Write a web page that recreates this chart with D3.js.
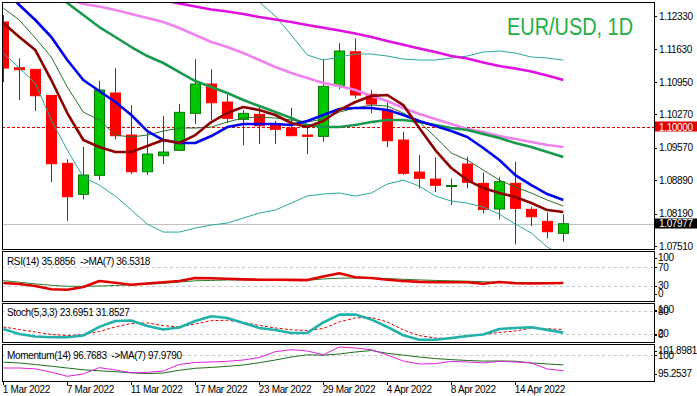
<!DOCTYPE html>
<meta charset="utf-8">
<style>
body { margin: 0; background: #fff; }
svg { display: block; font-family: "Liberation Sans", Arial, sans-serif; }
.axis text { font-size: 10px; letter-spacing: -0.35px; fill: #000; }
.axis path { display: none; }
.axis line { stroke: #000; shape-rendering: crispEdges; }
</style>
<svg width="697" height="396"></svg>
<script src="https://d3js.org/d3.v7.min.js"></script>
<script>

// ---- data (daily EUR/USD, 1 Mar .. 19 Apr 2022) ----
var dates = ["1 Mar 2022","2 Mar 2022","3 Mar 2022","4 Mar 2022","7 Mar 2022","8 Mar 2022","9 Mar 2022","10 Mar 2022",
  "11 Mar 2022","14 Mar 2022","15 Mar 2022","16 Mar 2022","17 Mar 2022","18 Mar 2022","21 Mar 2022","22 Mar 2022",
  "23 Mar 2022","24 Mar 2022","25 Mar 2022","28 Mar 2022","29 Mar 2022","30 Mar 2022","31 Mar 2022","1 Apr 2022",
  "4 Apr 2022","5 Apr 2022","6 Apr 2022","7 Apr 2022","8 Apr 2022","11 Apr 2022","12 Apr 2022","13 Apr 2022",
  "14 Apr 2022","15 Apr 2022","18 Apr 2022","19 Apr 2022"];

var open  = [1.12204,1.11246,1.11212,1.10665,1.09242,1.08593,1.08991,1.10716,1.09835,1.09066,1.09402,1.09515,
  1.10290,1.10904,1.10527,1.10164,1.10269,1.10060,1.09982,1.09835,1.09808,1.10869,1.11581,1.10688,
  1.10359,1.09731,1.09060,1.08913,1.08756,1.09228,1.08823,1.08284,1.08823,1.08278,1.08027,1.07775];
var high  = [1.12351,1.11443,1.11212,1.10674,1.09326,1.09590,1.10974,1.11233,1.10458,1.09940,1.10234,1.10485,
  1.11422,1.11212,1.10695,1.10359,1.10429,1.10135,1.10408,1.10045,1.11422,1.11757,1.11862,1.10779,
  1.10569,1.09905,1.09416,1.09368,1.08928,1.09381,1.09045,1.08961,1.09276,1.08333,1.08215,1.08173];
var low   = [1.10946,1.10569,1.10338,1.08850,1.08039,1.08488,1.08892,1.09745,1.09018,1.08997,1.09228,1.09515,
  1.10066,1.10150,1.10087,1.09620,1.09647,1.09647,1.09815,1.09437,1.09695,1.10793,1.10605,1.10290,
  1.09578,1.08997,1.08718,1.08641,1.08368,1.08718,1.08194,1.08068,1.07544,1.07928,1.07670,1.07599];
var close = [1.11240,1.11204,1.10659,1.09234,1.08542,1.08997,1.10779,1.09821,1.09066,1.09437,1.09479,1.10311,
  1.10904,1.10512,1.10185,1.10290,1.10030,1.09955,1.09821,1.09808,1.10856,1.11596,1.10674,1.10485,
  1.09716,1.09033,1.08928,1.08781,1.08777,1.08844,1.08278,1.08857,1.08299,1.08123,1.07809,1.07977];

// moving averages on price
var maRed = [1.12183,1.11890,1.11617,1.10988,1.10296,1.09731,1.09584,1.09479,1.09479,1.09605,1.09731,1.09668,
  1.09835,1.10108,1.10296,1.10422,1.10359,1.10255,1.10087,1.10003,1.10129,1.10359,1.10527,1.10653,
  1.10674,1.10464,1.09982,1.09521,1.09144,1.08892,1.08724,1.08620,1.08536,1.08410,1.08263,1.08221];
var maOlive = [1.12497,1.12246,1.11869,1.11470,1.10841,1.10317,1.10150,1.09835,1.09794,1.09835,1.09919,1.09982,
  1.09982,1.10003,1.10108,1.10192,1.10213,1.10192,1.10150,1.10108,1.10171,1.10317,1.10401,1.10464,
  1.10443,1.10296,1.10108,1.09794,1.09458,1.09311,1.09102,1.08892,1.08745,1.08620,1.08473,1.08347];
var maBlue = [1.12917,1.12560,1.12246,1.11890,1.11407,1.10988,1.10758,1.10527,1.10255,1.09919,1.09731,1.09668,
  1.09668,1.09814,1.10003,1.10066,1.10066,1.10066,1.10045,1.10129,1.10255,1.10380,1.10401,1.10401,
  1.10359,1.10255,1.10129,1.10024,1.09919,1.09794,1.09563,1.09311,1.08997,1.08787,1.08599,1.08473];
var maGreen = [null,null,null,1.12875,1.12602,1.12351,1.12099,1.11890,1.11680,1.11491,1.11345,1.11156,
  1.10967,1.10841,1.10716,1.10569,1.10443,1.10317,1.10192,1.10045,1.10003,1.10003,1.10045,1.10108,
  1.10150,1.10150,1.10108,1.10045,1.09982,1.09940,1.09856,1.09773,1.09668,1.09584,1.09479,1.09374];
var maPink = [null,null,null,1.12749,1.12686,1.12581,1.12529,1.12455,1.12372,1.12288,1.12204,1.12078,
  1.11931,1.11785,1.11680,1.11554,1.11407,1.11261,1.11135,1.11030,1.10925,1.10862,1.10779,1.10653,
  1.10548,1.10401,1.10276,1.10171,1.10066,1.09961,1.09898,1.09814,1.09751,1.09689,1.09626,1.09584];
var maMagenta = [null,null,null,null,null,null,null,null,null,1.12728,1.12665,1.12592,
  1.12529,1.12466,1.12424,1.12372,1.12309,1.12258,1.12204,1.12141,1.12084,1.12026,1.11965,1.11890,
  1.11806,1.11728,1.11648,1.11575,1.11491,1.11439,1.11355,1.11282,1.11229,1.11166,1.11082,1.10988];
var bbUpper = [null,null,null,null,null,null,null,null,null,null,null,null,
  null,null,null,1.12917,1.12623,1.12330,1.11931,1.11512,1.11407,1.11470,1.11533,1.11533,
  1.11491,1.11428,1.11407,1.11407,1.11449,1.11491,1.11575,1.11596,1.11554,1.11470,1.11449,1.11407];
var bbLower = [1.11554,1.11240,1.10925,1.10150,1.09521,1.08955,1.08787,1.08557,1.08263,1.07970,1.07802,1.07802,
  1.07886,1.07949,1.07991,1.08096,1.08200,1.08263,1.08410,1.08557,1.08599,1.08620,1.08557,1.08620,
  1.08808,1.08892,1.08766,1.08557,1.08452,1.08410,1.08326,1.08179,1.07970,1.07781,1.07488,1.07299];

// indicators
var rsi = [35.9,33.7,29.3,22.2,21.3,27.2,40.2,36.5,32.2,34.8,37.6,40.2,46.7,46.3,45.0,43.7,43.0,43.0,
  42.6,42.2,50.0,57.2,48.3,46.7,42.8,40.2,38.3,37.4,37.4,37.4,34.1,38.0,35.4,34.8,35.4,35.8856];
var rsiMa = [41.1,37.6,33.9,30.9,28.7,28.7,29.3,30.4,32.0,33.3,35.0,38.0,40.7,41.5,42.4,42.8,42.8,42.6,
  42.0,41.7,44.6,46.3,46.7,46.5,45.7,43.9,42.6,41.5,40.7,39.8,38.7,37.4,37.0,36.7,36.5,36.5318];
var stochK = [33.3,20.1,13.5,11.6,11.4,16.1,38.9,54.5,55.8,41.3,32.0,37.3,54.5,66.9,62.4,49.2,36.0,30.7,
  22.8,22.8,50.5,71.2,71.2,58.5,38.6,16.7,5.0,5.0,9.5,14.8,18.8,33.3,36.0,37.8,31.0,23.6951];
var stochD = [38.6,32.0,25.4,18.8,15.9,18.8,26.7,38.6,47.9,49.2,42.1,38.6,46.6,55.3,56.3,50.5,42.6,36.0,
  31.2,29.1,34.7,51.9,62.4,63.8,51.9,30.7,15.9,9.5,7.7,13.5,18.8,24.1,28.0,35.4,33.9,31.8527];
var momentum = [97.33,97.33,97.16,96.46,95.61,96.08,97.41,96.92,96.35,96.44,96.71,98.06,98.47,98.58,98.72,98.99,
  99.51,100.72,101.13,100.86,100.07,101.70,101.48,101.13,100.03,98.78,98.16,98.24,98.70,98.58,98.39,98.70,
  98.58,98.37,97.12,96.7683];
var momentumMa = [98.54,98.37,98.06,97.70,97.33,96.96,96.75,96.56,96.33,96.17,96.29,96.85,97.27,97.45,97.68,97.95,
  98.43,98.99,99.61,100.07,99.99,100.24,100.65,100.96,100.38,100.01,99.61,99.28,99.07,98.89,98.76,98.80,
  98.74,98.39,98.16,97.9790];

// axis ticks and levels
var priceTicks = [1.12330, 1.11630, 1.10950, 1.10270, 1.09570, 1.08890, 1.08190, 1.07510];
var rsiTicks = [100, 70, 30, 0], rsiLevels = [70, 30];
var stochTicks = [100, 80, 20, 0], stochLevels = [80, 20];
var momTicks = [101.8981, 100, 95.2537], momLevels = [100];
var levelPrice = 1.10000, lastPrice = 1.07977;

var svg = d3.select("svg"),
    plotL = 2, plotR = 654;

var panels = [
  {id: "main",  top: 2,   bottom: 249},
  {id: "rsi",   top: 251, bottom: 301},
  {id: "stoch", top: 303, bottom: 342},
  {id: "mom",   top: 344, bottom: 381}
];

var x = d3.scaleLinear().domain([0, 35]).range([3.3, 563.3]);
var yMain  = d3.scaleLinear().domain([1.0751, 1.1233]).range([246, 16]);
var yRsi   = d3.scaleLinear().domain([0, 100]).range([299.5, 253.5]);
var yStoch = d3.scaleLinear().domain([0, 100]).range([341.6, 303.7]);
var yMom   = d3.scaleLinear().domain([95.2537, 101.8981]).range([378, 346]);

var defs = svg.append("defs");
var layer = {};
panels.forEach(function(p) {
  defs.append("clipPath").attr("id", "clip-" + p.id)
    .append("rect")
      .attr("x", plotL + 1).attr("y", p.top + 1)
      .attr("width", plotR - plotL - 1).attr("height", p.bottom - p.top - 1);
  layer[p.id] = svg.append("g").attr("clip-path", "url(#clip-" + p.id + ")");
});

function hline(g, y, color, dash) {
  g.append("line")
      .attr("x1", plotL).attr("x2", plotR)
      .attr("y1", Math.round(y) + 0.5).attr("y2", Math.round(y) + 0.5)
      .attr("stroke", color)
      .attr("stroke-dasharray", dash || null);
}

function drawLine(g, values, y, color, width, dash) {
  var line = d3.line()
      .defined(function(d) { return d != null; })
      .x(function(d, i) { return x(i); })
      .y(function(d) { return y(d); });
  g.append("path")
      .datum(values)
      .attr("d", line)
      .attr("fill", "none")
      .attr("stroke", color)
      .attr("stroke-width", width)
      .attr("stroke-linejoin", "round")
      .attr("stroke-dasharray", dash || null);
}

// ---- main chart ----
var gm = layer.main;
hline(gm, yMain(levelPrice), "#e00000", "3,2");
hline(gm, yMain(lastPrice), "#c0c0c0");

var candles = gm.selectAll(".candle")
  .data(d3.range(open.length))
  .enter().append("g");

candles.append("line")
    .attr("x1", function(i) { return Math.round(x(i)) + 0.5; })
    .attr("x2", function(i) { return Math.round(x(i)) + 0.5; })
    .attr("y1", function(i) { return yMain(high[i]); })
    .attr("y2", function(i) { return yMain(low[i]); })
    .attr("stroke", function(i) { return close[i] >= open[i] ? "#007000" : "#d00000"; });

candles.append("rect")
    .attr("x", function(i) { return Math.round(x(i)) - 4.5; })
    .attr("width", 10)
    .attr("y", function(i) { return yMain(Math.max(open[i], close[i])); })
    .attr("height", function(i) { return Math.max(1, Math.abs(yMain(open[i]) - yMain(close[i]))); })
    .attr("fill", function(i) { return close[i] >= open[i] ? "#00c800" : "#ff0000"; })
    .attr("stroke", function(i) { return close[i] >= open[i] ? "#007800" : "#ff0000"; })
    .attr("stroke-width", 1);

drawLine(gm, bbUpper, yMain, "#2aa898", 1);
drawLine(gm, bbLower, yMain, "#2aa898", 1);
drawLine(gm, maMagenta, yMain, "#e010e0", 2.6);
drawLine(gm, maPink, yMain, "#ee82ee", 2.6);
drawLine(gm, maGreen, yMain, "#179a4c", 2.6);
drawLine(gm, maOlive, yMain, "#2d6e2d", 1);
drawLine(gm, maBlue, yMain, "#0000f0", 2.6);
drawLine(gm, maRed, yMain, "#8c0000", 2.6);

svg.append("text")
    .attr("x", 507).attr("y", 35)
    .attr("font-size", 23)
    .attr("textLength", 126)
    .attr("lengthAdjust", "spacingAndGlyphs")
    .attr("fill", "#20b040")
    .text("EUR/USD, 1D");

// ---- indicator windows ----
var gr = layer.rsi;
rsiLevels.forEach(function(v) { hline(gr, yRsi(v), "#c8c8c8", "3,3"); });
drawLine(gr, rsiMa, yRsi, "#2d7a2d", 1);
drawLine(gr, rsi, yRsi, "#e00000", 2.6);

var gs = layer.stoch;
stochLevels.forEach(function(v) { hline(gs, yStoch(v), "#c8c8c8", "3,3"); });
drawLine(gs, stochD, yStoch, "#e00000", 1, "3,2");
drawLine(gs, stochK, yStoch, "#20b2aa", 2.6);

var gmo = layer.mom;
momLevels.forEach(function(v) { hline(gmo, yMom(v), "#c8c8c8", "3,3"); });
drawLine(gmo, momentumMa, yMom, "#1e6e1e", 1);
drawLine(gmo, momentum, yMom, "#e020e0", 1);

// frames
panels.forEach(function(p) {
  svg.append("rect")
      .attr("x", plotL + 0.5).attr("y", p.top + 0.5)
      .attr("width", plotR - plotL).attr("height", p.bottom - p.top)
      .attr("fill", "none").attr("stroke", "#000");
});

// legends
var legend = [
  {y: 264.5, t: "RSI(14) 35.8856  ->MA(7) 36.5318"},
  {y: 315.5, t: "Stoch(5,3,3) 23.6951 31.8527"},
  {y: 358.5, t: "Momentum(14) 96.7683  ->MA(7) 97.9790"}
];
svg.selectAll(".legend").data(legend).enter().append("text")
    .attr("x", 7).attr("y", function(d) { return d.y; })
    .attr("font-size", 10).attr("letter-spacing", "-0.35px")
    .attr("fill", "#000")
    .style("white-space", "pre")
    .text(function(d) { return d.t; });

// ---- axes ----
svg.append("g")
    .attr("class", "axis")
    .attr("transform", "translate(" + plotR + ",0)")
    .call(d3.axisRight(yMain).tickValues(priceTicks).tickSize(3).tickPadding(2)
      .tickFormat(d3.format(".5f")));

function priceTag(v, bg) {
  var yv = yMain(v);
  svg.append("rect")
      .attr("x", plotR + 1).attr("y", Math.round(yv) - 5.5)
      .attr("width", 697 - plotR).attr("height", 10)
      .attr("fill", bg);
  svg.append("text")
      .attr("x", plotR + 5).attr("y", yv).attr("dy", "0.34em")
      .attr("font-size", 10).attr("letter-spacing", "-0.35px")
      .attr("fill", "#fff")
      .text(d3.format(".5f")(v));
}
priceTag(levelPrice, "#e00000");
priceTag(lastPrice, "#000");

function sideLabels(ticks, y, p, fmt) {
  var g = svg.append("g").attr("class", "axis");
  ticks.forEach(function(v) {
    var yy = Math.max(p.top + 7, Math.min(p.bottom - 7, y(v)));
    g.append("line")
        .attr("x1", plotR).attr("x2", plotR + 3)
        .attr("y1", Math.round(yy) + 0.5).attr("y2", Math.round(yy) + 0.5);
    g.append("text")
        .attr("x", plotR + 4).attr("y", yy).attr("dy", "0.34em")
        .text(fmt(v));
  });
}
sideLabels(rsiTicks, yRsi, panels[1], d3.format("d"));
sideLabels(stochTicks, yStoch, panels[2], d3.format("d"));
sideLabels(momTicks, yMom, panels[3], d3.format("~f"));

var xAxis = svg.append("g")
    .attr("class", "axis")
    .attr("transform", "translate(0," + panels[3].bottom + ")")
    .call(d3.axisBottom(x).tickValues(d3.range(0, 36, 4)).tickSize(4).tickPadding(1)
      .tickFormat(function(i) { return dates[i]; }));
xAxis.selectAll("text").attr("text-anchor", "start").attr("x", -1);

</script>
